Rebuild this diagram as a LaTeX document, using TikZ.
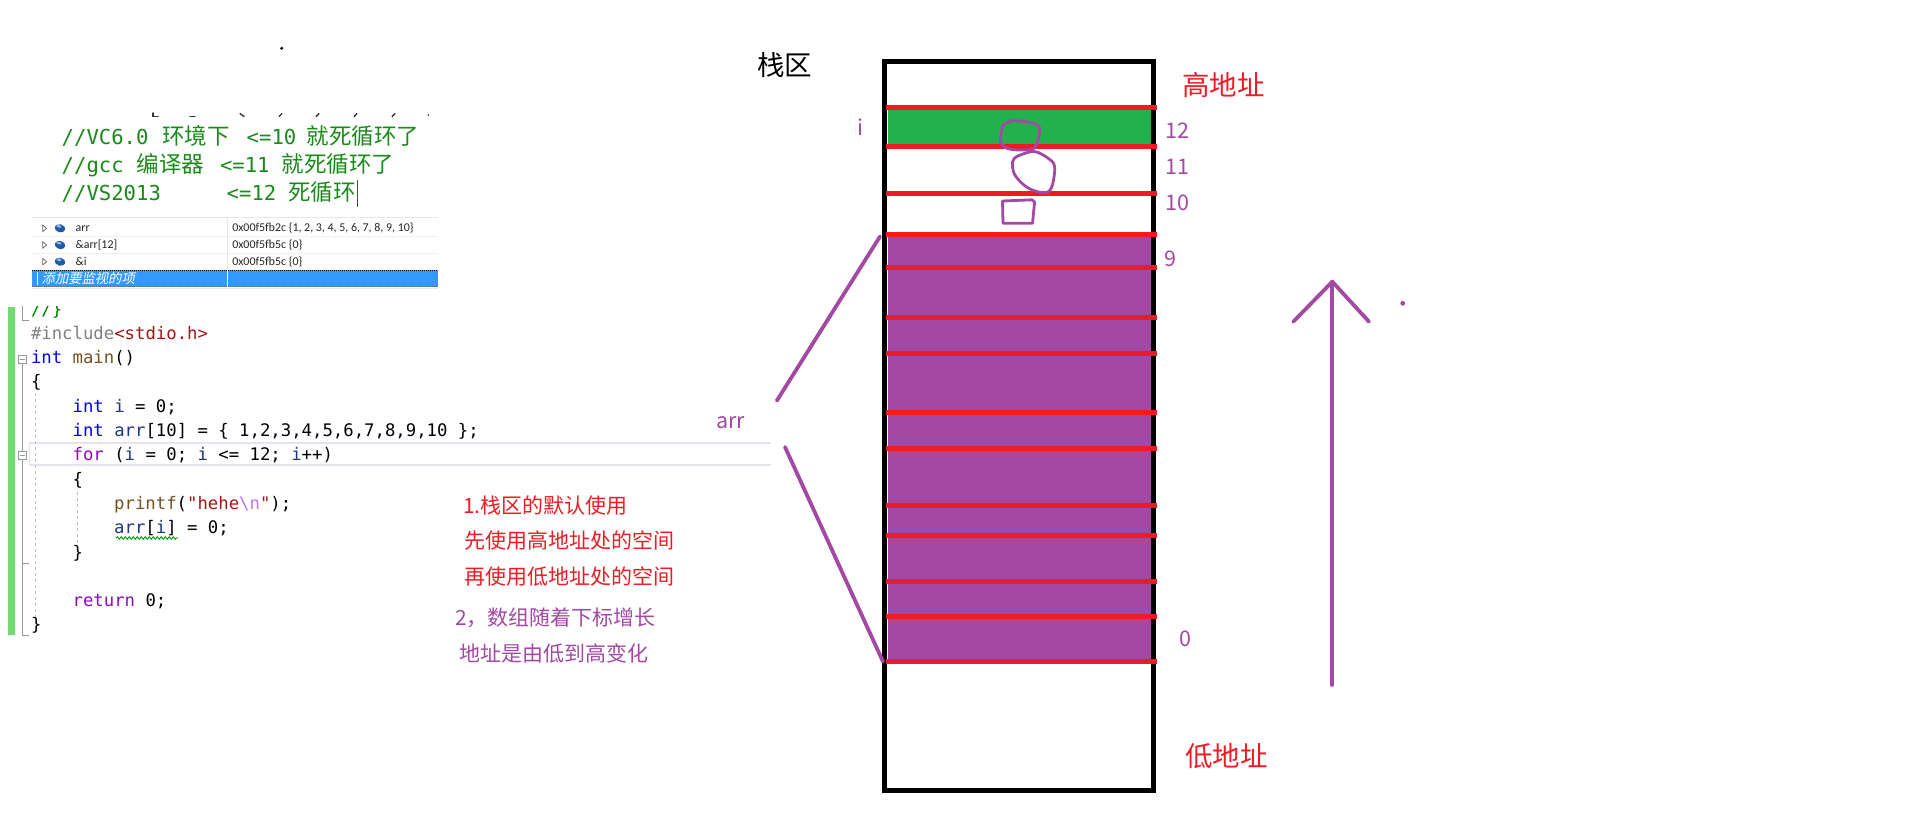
\documentclass[tikz,border=0pt]{standalone}
\usepackage{fontspec}
\setmainfont{Noto Sans CJK SC}
\newfontfamily\codefont{DejaVu Sans Mono}
\newfontfamily\cjkfont{Noto Sans CJK SC}
\newfontfamily\uifont{Carlito}
\newfontfamily\uicjk[FakeSlant=0.2]{Noto Sans CJK SC}
\usetikzlibrary{decorations.pathmorphing}
\frenchspacing
\definecolor{pred}{HTML}{ED1C24}
\definecolor{ppurple}{HTML}{A349A4}
\definecolor{pgreen}{HTML}{22B14C}
\definecolor{kwblue}{HTML}{0000FF}
\definecolor{ctrlpurple}{HTML}{8F08C4}
\definecolor{strred}{HTML}{A31515}
\definecolor{preproc}{HTML}{808080}
\definecolor{fnbrown}{HTML}{74531F}
\definecolor{varblue}{HTML}{1F377F}
\definecolor{escpurple}{HTML}{B776FB}
\definecolor{cmtgreen}{HTML}{1A8A1A}
\definecolor{codecmt}{HTML}{008000}
\definecolor{bargreen}{HTML}{6FDC6F}
\definecolor{vsblue}{HTML}{3399FF}
\definecolor{iconblue}{HTML}{1E5AA8}
\definecolor{hlgray}{HTML}{E4E4EC}
\definecolor{rowgray}{HTML}{E8E8E8}
\tikzset{
  lbl/.style={inner sep=0pt, outer sep=0pt},
  purpletxt/.style={lbl, anchor=base west, text=ppurple, font=\cjkfont\fontsize{21.5}{25}\selectfont},
  redtxt/.style={lbl, anchor=base west, text=pred, font=\cjkfont\fontsize{21}{25}\selectfont},
  purplecjk/.style={lbl, anchor=base west, text=ppurple, font=\cjkfont\fontsize{21}{25}\selectfont},
  bigtxt/.style={lbl, anchor=base west, font=\cjkfont\fontsize{27.5}{32}\selectfont},
  codeln/.style={lbl, anchor=base west, text=black, font=\codefont\fontsize{17.3}{20}\selectfont},
  cmt/.style={lbl, anchor=base west, text=cmtgreen, font=\codefont\fontsize{20.6}{24}\selectfont},
  cmtcjk/.style={lbl, anchor=base west, text=cmtgreen, font=\cjkfont\fontsize{22.5}{26}\selectfont},
  wtxt/.style={lbl, anchor=west, text=black!85, font=\uifont\fontsize{11.9}{14}\selectfont},
  redsep/.style={draw=pred, line width=4.6},
  pline/.style={draw=ppurple, line width=3.8, line cap=round},
  scrib/.style={draw=ppurple, line width=2.8, line cap=round, line join=round},
  outl/.style={draw=black!40, line width=1},
  guide/.style={draw=black!25, line width=1, dash pattern=on 3pt off 3pt},
}
\begin{document}
\begin{tikzpicture}[x=1pt,y=-1pt]
\useasboundingbox (0,0) rectangle (1914,815);
\fill[white] (0,0) rectangle (1914,815);

% ---------- top stray dot and cut fragments ----------
\fill[black] (281.7,48.3) circle (1.7);
\begin{scope}[draw=black!80, line width=1.4, line cap=round]
  \draw (153,113) -- (153,116.5) -- (158,116.5);
  \draw (190,116.5) -- (195,116.5);
  \draw (240,113.5) -- (244,116.5);
  \draw (279,116.5) -- (282,113.5);
  \draw (316,116.5) -- (319,113.5);
  \draw (354,116.5) -- (357,113.5);
  \draw (392,116.5) -- (395,113.5);
\end{scope}
\fill[black!70] (428.3,115) circle (1);

% ---------- comment lines ----------
\node[cmt] (c1a) at (61.7,144) {//VC6.0};
\node[cmtcjk] (c1b) at (162,144) {环境下};
\node[cmt] (c1c) at (246.7,144) {<=10};
\node[cmtcjk] (c1d) at (306.7,144) {就死循环了};
\node[cmt] (c2a) at (61.7,172.3) {//gcc};
\node[cmtcjk] (c2b) at (136.7,172.3) {编译器};
\node[cmt] (c2c) at (220,172.3) {<=11};
\node[cmtcjk] (c2d) at (281.7,172.3) {就死循环了};
\node[cmt] (c3a) at (61.7,200.6) {//VS2013};
\node[cmt] (c3c) at (226.7,200.6) {<=12};
\node[cmtcjk] (c3d) at (288.3,200.6) {死循环};
\draw[black!70, line width=1] (357.3,180) -- (357.3,206.7);

% ---------- watch window ----------
\draw[rowgray, line width=1] (32,217.3) -- (438,217.3);
\draw[rowgray!60, line width=1] (32,236.7) -- (438,236.7);
\draw[rowgray!60, line width=1] (32,253.3) -- (438,253.3);
\draw[rowgray, line width=1] (227.3,217.3) -- (227.3,270);
\fill[vsblue] (32,270) rectangle (438,286.7);
\draw[black, line width=0.8, dash pattern=on 1pt off 1pt] (32,270.4) -- (438,270.4);
\draw[black!60, line width=0.8, dash pattern=on 1pt off 1pt] (32,286.3) -- (438,286.3);
\draw[white, line width=1] (227.3,270) -- (227.3,286.7);
\draw[white, line width=1] (37.7,272) -- (37.7,285);
\draw[rowgray, line width=1.5] (32,288.5) -- (438,288.5);
\foreach \ry in {228.3,245,261.7}{
  \draw[black!60, line width=0.7, fill=white] (42.8,\ry-3.2) -- (46.6,\ry) -- (42.8,\ry+3.2) -- cycle;
  \fill[iconblue, rotate around={-15:(60,\ry)}] (60,\ry) ellipse (5.4 and 4);
  \fill[white!55!iconblue, rotate around={-15:(60,\ry)}] (58.5,\ry-1.6) ellipse (2.6 and 1.3);
}
\node[wtxt] (w1n) at (75.7,228.3) {arr};
\node[wtxt] (w1v) at (232.3,228.3) {0x00f5fb2c \{1, 2, 3, 4, 5, 6, 7, 8, 9, 10\}};
\node[wtxt] (w2n) at (75.7,245) {\&arr[12]};
\node[wtxt] (w2v) at (232.3,245) {0x00f5fb5c \{0\}};
\node[wtxt] (w3n) at (75.7,261.7) {\&i};
\node[wtxt] (w3v) at (232.3,261.7) {0x00f5fb5c \{0\}};
\node[lbl, anchor=west, text=white, font=\uicjk\fontsize{13.3}{15}\selectfont] (w4n) at (41.7,278.3) {添加要监视的项};

% ---------- code editor ----------
\begin{scope}
\clip (0,306) rectangle (780,640);
\fill[bargreen] (8.3,306.7) rectangle (15,635);
\draw[hlgray, line width=1.6] (771,442.7) -- (29.3,442.7) -- (29.3,465) -- (771,465);
% outlining margin
\draw[outl] (22.7,306) -- (22.7,320) -- (28.5,320);
\draw[outl, fill=white] (18.7,355.3) rectangle (26.7,363.3);
\draw[outl] (20.4,359.3) -- (25,359.3);
\draw[outl] (22.7,363.3) -- (22.7,451);
\draw[outl, fill=white] (18.7,451) rectangle (26.7,459);
\draw[outl] (20.4,455) -- (25,455);
\draw[outl] (22.7,459) -- (22.7,635) -- (28.5,635);
\draw[outl] (22.7,563.3) -- (28.5,563.3);
\draw[guide] (35,393) -- (35,621);
\draw[guide] (77.3,491.7) -- (77.3,545);
% code text
\node[codeln] (lm1) at (31,315) {{\color{codecmt}//\}}};
\node[codeln] (l0) at (31,339.3) {{\color{preproc}\#include}{\color{strred}<stdio.h>}};
\node[codeln] (l1) at (31,363.6) {{\color{kwblue}int} {\color{fnbrown}main}()};
\node[codeln] (l2) at (31,387.9) {\{};
\node[codeln] (l3) at (72.6,412.2) {{\color{kwblue}int} {\color{varblue}i} = 0;};
\node[codeln] (l4) at (72.6,436.5) {{\color{kwblue}int} {\color{varblue}arr}[10] = \{ 1,2,3,4,5,6,7,8,9,10 \};};
\node[codeln] (l5) at (72.6,460.8) {{\color{ctrlpurple}for} ({\color{varblue}i} = 0; {\color{varblue}i} <= 12; {\color{varblue}i}++)};
\node[codeln] (l6) at (72.6,485.1) {\{};
\node[codeln] (l7) at (114.2,509.4) {{\color{fnbrown}printf}({\color{strred}"hehe}{\color{escpurple}\textbackslash n}{\color{strred}"});};
\node[codeln] (l8) at (114.2,533.7) {{\color{varblue}arr}[{\color{varblue}i}] = 0;};
\node[codeln] (l9) at (72.6,558) {\}};
\node[codeln] (l11) at (72.6,606.6) {{\color{ctrlpurple}return} 0;};
\node[codeln] (l12) at (31,630.9) {\}};
\draw[draw=green!60!black, line width=0.9, decorate, decoration={snake, amplitude=1.3pt, segment length=4pt}] (116,538) -- (178.3,538);
\end{scope}

% ---------- explanation texts ----------
\node[redtxt] (t1) at (463,513) {1.栈区的默认使用};
\node[redtxt] (t2) at (464,548.5) {先使用高地址处的空间};
\node[redtxt] (t3) at (464,584) {再使用低地址处的空间};
\node[purplecjk] (t4) at (455,625) {2，数组随着下标增长};
\node[purplecjk] (t5) at (459,661) {地址是由低到高变化};

% ---------- stack diagram ----------
\node[bigtxt, text=black] (zhanqu) at (757,75) {栈区};
\node[bigtxt, text=pred] (high) at (1182,95) {高地址};
\node[bigtxt, text=pred] (low) at (1185,766) {低地址};

\fill[pgreen] (887.5,107.3) rectangle (1150.7,146.3);
\fill[ppurple] (887.5,234.3) rectangle (1150.7,661.3);
\draw[line width=5] (884.75,61.7) rectangle (1153.4,790.8);
\foreach \yy in {107.3,146.3,193.3,234.3,267.3,317.3,353.3,412.3,448.3,505.3,535.3,581.3,616.3,661.3}
  \draw[redsep] (885.7,\yy) -- (1157,\yy);

% scribbles
\draw[scrib] plot[smooth cycle, tension=0.6] coordinates {(1003.6,125) (1014.3,120.7) (1037.5,125) (1038.6,136.7) (1033.9,148.3) (1021.4,150) (1007,148.3) (1000.7,141.7) (1001.8,130)};
\draw[scrib] plot[smooth cycle, tension=0.6] coordinates {(1026.8,152.7) (1014.3,158.3) (1012.5,166.7) (1016,176.7) (1028.6,188.3) (1044.6,192.7) (1051.8,186.7) (1054.6,166.7) (1048.2,158.3) (1035.7,151.7)};
\draw[scrib] (1002.5,201) -- (1032,199.8) -- (1034.6,202) -- (1032.5,223.3) -- (1003,223.3) -- cycle;

% labels
\node[purpletxt] (li) at (857,135) {i};
\node[purpletxt] (n12) at (1165.5,138.3) {12};
\node[purpletxt] (n11) at (1165.5,174) {11};
\node[purpletxt] (n10) at (1165.5,210) {10};
\node[purpletxt] (n9) at (1164,266.7) {9};
\node[purpletxt] (n0) at (1179,646) {0};
\node[purpletxt] (larr) at (716,428.3) {arr};

% arr brackets
\coordinate (boxTL) at (880,236.5);
\coordinate (arrA) at (776.8,400.7);
\coordinate (arrB) at (785,447);
\coordinate (boxBL) at (883,661.7);
\draw[pline] (boxTL) -- (arrA);
\draw[pline] (arrB) -- (boxBL);

% growth arrow
\coordinate (arrowBot) at (1332.3,685);
\coordinate (arrowTop) at (1332.3,281.7);
\coordinate (armL) at (1293.3,321.7);
\coordinate (armR) at (1369,321.7);
\draw[pline] (arrowBot) -- (arrowTop);
\draw[pline, line join=round] (armL) -- (arrowTop) -- (armR);
\fill[ppurple] (1402.7,303.3) circle (2.4);
\end{tikzpicture}
\end{document}
